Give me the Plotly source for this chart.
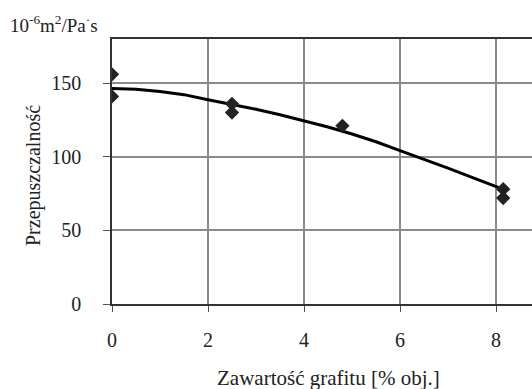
import plotly.graph_objects as go

# measured points
pts_x = [0, 0, 2.5, 2.5, 4.8, 8.15, 8.15]
pts_y = [156, 141, 136, 130, 121, 78, 72]

# trend curve
curve_x = [0, 0.5, 1, 1.5, 2, 2.5, 3, 3.5, 4, 4.5, 5, 5.5, 6, 6.5, 7, 7.5, 8, 8.1]
curve_y = [146.3, 145.8, 144.4, 142.2, 138.8, 135.8, 132.3, 128.5, 124.5, 120.2, 115.5, 110.2, 104.2, 98.5, 92.3, 86.0, 79.5, 78.5]

x_ticks = [0, 2, 4, 6, 8]
y_ticks = [0, 50, 100, 150]

W, H = 532, 389
L, T, B, R = 112, 39, 85, 0

font_family = "Liberation Serif"

fig = go.Figure()
fig.add_trace(go.Scatter(x=curve_x, y=curve_y, mode="lines",
                         line=dict(color="black", width=3), hoverinfo="skip"))
fig.add_trace(go.Scatter(x=pts_x, y=pts_y, mode="markers",
                         marker=dict(symbol="diamond", size=11, color="#222222")))

fig.update_layout(
    width=W, height=H,
    margin=dict(l=L, r=R, t=T, b=B, pad=0),
    paper_bgcolor="white", plot_bgcolor="white",
    showlegend=False,
    font=dict(family=font_family, size=20, color="#222222"),
    xaxis=dict(range=[0, (W - L - R) / 48], tickvals=x_ticks, ticktext=[str(v) for v in x_ticks],
               showgrid=True, gridcolor="#8a8a8a", gridwidth=1.5,
               showline=True, linecolor="#333333", linewidth=1.5, mirror=True,
               ticks="outside", ticklen=6, tickcolor="#555555", tickwidth=1,
               ticklabelstandoff=11, zeroline=False, fixedrange=True),
    yaxis=dict(range=[0, 180], tickvals=y_ticks, ticktext=[str(v) for v in y_ticks],
               showgrid=True, gridcolor="#8a8a8a", gridwidth=1.5,
               showline=True, linecolor="#333333", linewidth=1.5,
               ticks="outside", ticklen=7, tickcolor="#555555", tickwidth=1,
               ticklabelstandoff=18, zeroline=False, fixedrange=True),
)

pw = W - L - R
ph = H - T - B
fig.add_annotation(text="Zawartość grafitu [% obj.]", xref="paper", yref="paper",
                   x=(328 - L) / pw, y=-(378 - (T + ph)) / ph, showarrow=False,
                   xanchor="center", yanchor="middle", font=dict(size=21))
fig.add_annotation(text="Przepuszczalność", xref="paper", yref="paper",
                   x=(33 - L) / pw, y=(H - B - 176) / ph, showarrow=False, textangle=-90,
                   xanchor="center", yanchor="middle", font=dict(size=20))
fig.add_annotation(text="10<sup>-6</sup>m<sup>2</sup>/Pa<sup>·</sup>s", xref="paper", yref="paper",
                   x=(8 - L) / pw, y=(H - B - 24) / ph, showarrow=False,
                   xanchor="left", yanchor="middle", font=dict(size=19))

fig.write_html("out.html", config={"displayModeBar": False},
               post_script="document.body.style.margin='0';document.body.style.overflow='hidden';")
